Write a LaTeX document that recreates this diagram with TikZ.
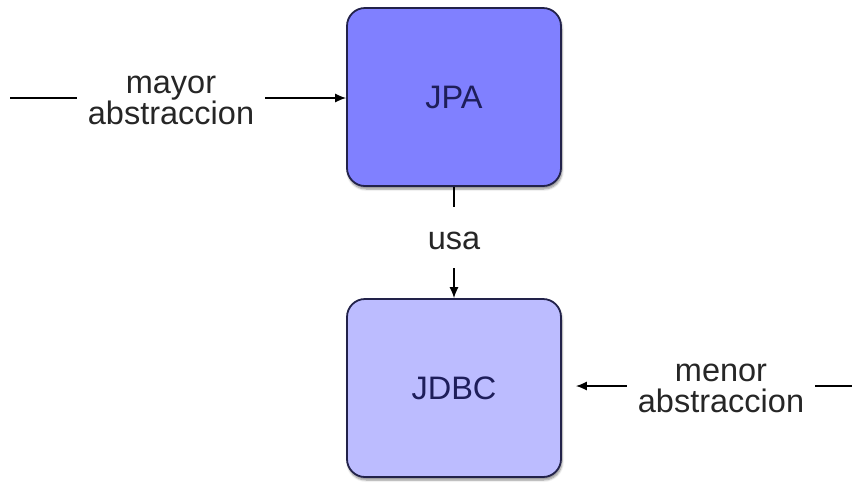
\documentclass[tikz,border=0pt]{standalone}
\usepackage{fontspec}
\setmainfont{Liberation Sans}
\usetikzlibrary{arrows.meta,shadows.blur}
\definecolor{jpafill}{HTML}{8080FF}
\definecolor{jdbcfill}{HTML}{BCBCFF}
\definecolor{boxedge}{HTML}{22224A}
\definecolor{boxtext}{HTML}{1E1E5A}
\definecolor{inktext}{HTML}{262626}
\tikzset{
  layer/.style={draw=boxedge, line width=1.8pt, rounded corners=18pt,
    minimum width=214pt, minimum height=178pt, inner sep=0pt,
    text=boxtext, font=\fontsize{32.5}{34}\selectfont,
    blur shadow={shadow xshift=1pt, shadow yshift=-3pt, shadow blur steps=6, shadow opacity=45}},
  caption/.style={align=center, text=inktext, inner sep=11pt,
    font=\fontsize{32.5}{31}\selectfont},
  wire/.style={draw=black, line width=1.3pt},
  tip/.style={-{Latex[length=11pt,width=9pt]}}
}
\begin{document}
\begin{tikzpicture}[x=1pt,y=-1pt]
  \useasboundingbox (0,0) rectangle (852,483);
  \node[layer, fill=jpafill] (jpa) at (454,97) {JPA};
  \node[layer, fill=jdbcfill] (jdbc) at (454,388) {JDBC};

  % upper layer enters from the left
  \coordinate (leftend) at (10,98);
  \node[caption] (mayor) at (171,100) {mayor\\abstraccion};
  \draw[wire] (leftend) -- (mayor.west |- leftend);
  \draw[wire, tip] (mayor.east |- leftend) -- (jpa.west |- leftend);

  % JPA uses JDBC
  \node[caption, inner sep=0pt] (usa) at (454,241) {usa};
  \draw[wire, shorten >=25pt] (jpa.south) -- (usa.north -| jpa.south);
  \draw[wire, tip, shorten <=18pt] (usa.south -| jpa.south) -- (jdbc.north);

  % lower layer enters from the right
  \coordinate (rightend) at (852,386);
  \node[caption] (menor) at (721,388) {menor\\abstraccion};
  \draw[wire] (rightend) -- (menor.east |- rightend);
  \draw[wire, tip, shorten >=14pt] (menor.west |- rightend) -- (jdbc.east |- rightend);
\end{tikzpicture}
\end{document}
